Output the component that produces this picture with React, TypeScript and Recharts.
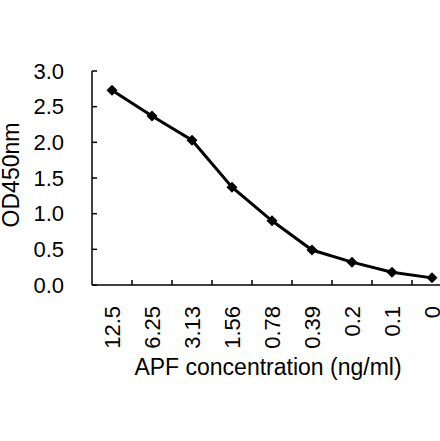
import { LineChart, Line, XAxis, YAxis, Label } from "recharts";

const concLabels = ["12.5", "6.25", "3.13", "1.56", "0.78", "0.39", "0.2", "0.1", "0"];
const odValues = [2.73, 2.37, 2.03, 1.37, 0.9, 0.49, 0.32, 0.18, 0.1];
const yTicks = [0, 0.5, 1, 1.5, 2, 2.5, 3];

const data = concLabels.map((c, i) => ({ conc: c, od: odValues[i] }));

const FONT = "'Liberation Sans', Arial, sans-serif";
const Y_MARGIN = 28;
const X_MARGIN = 21;
const HALF_BAND = 20;

const YTick = (props: any) => {
  const { x, y, payload } = props;
  const ax = x + Y_MARGIN;
  return (
    <g>
      <line x1={ax} y1={y} x2={ax + 5} y2={y} stroke="#000" strokeWidth={1.5} />
      <text x={x} y={y} textAnchor="end" dominantBaseline="central" fontSize={22} fontFamily={FONT} fill="#000">
        {Number(payload.value).toFixed(1)}
      </text>
    </g>
  );
};

const XTick = (props: any) => {
  const { x, y, payload } = props;
  const ay = y - X_MARGIN;
  return (
    <g>
      <line x1={x + HALF_BAND} y1={ay} x2={x + HALF_BAND} y2={ay - 5} stroke="#000" strokeWidth={1.5} />
      <text
        x={x}
        y={y}
        transform={`rotate(-90 ${x} ${y})`}
        textAnchor="end"
        dominantBaseline="central"
        fontSize={22}
        fontFamily={FONT}
        fill="#000"
      >
        {payload.value}
      </text>
    </g>
  );
};

const Diamond = (props: any) => {
  const { cx, cy, index } = props;
  if (cx == null || cy == null) return <g key={`d-${index}`} />;
  const r = 5.5;
  return (
    <path
      key={`d-${index}`}
      d={`M${cx},${cy - r}L${cx + r},${cy}L${cx},${cy + r}L${cx - r},${cy}Z`}
      fill="#000"
    />
  );
};

export default function App() {
  return (
    <div style={{ position: "absolute", left: 0, top: 0, width: 440, height: 441, overflow: "hidden", background: "#fff" }}>
      <LineChart width={460} height={441} data={data} margin={{ top: 71, right: 8, left: 0, bottom: 56 }}>
        <XAxis
          dataKey="conc"
          type="category"
          scale="band"
          height={100}
          axisLine={{ stroke: "#000", strokeWidth: 1.5 }}
          tickLine={false}
          tickSize={0}
          tickMargin={X_MARGIN}
          tick={<XTick />}
          interval={0}
        >
          <Label
            value="APF concentration (ng/ml)"
            position="insideBottom"
            offset={10}
            dx={-4}
            style={{ fontSize: 23, fontFamily: FONT, fill: "#000" }}
          />
        </XAxis>
        <YAxis
          domain={[0, 3]}
          ticks={yTicks}
          width={92}
          axisLine={{ stroke: "#000", strokeWidth: 1.5 }}
          tickLine={false}
          tickSize={0}
          tickMargin={Y_MARGIN}
          tick={<YTick />}
          interval={0}
        >
          <Label
            value="OD450nm"
            angle={-90}
            position="insideLeft"
            offset={11}
            dy={-3}
            style={{ fontSize: 23, fontFamily: FONT, fill: "#000", textAnchor: "middle" }}
          />
        </YAxis>
        <Line
          type="linear"
          dataKey="od"
          stroke="#000"
          strokeWidth={3}
          dot={Diamond}
          activeDot={false}
          isAnimationActive={false}
        />
      </LineChart>
    </div>
  );
}
